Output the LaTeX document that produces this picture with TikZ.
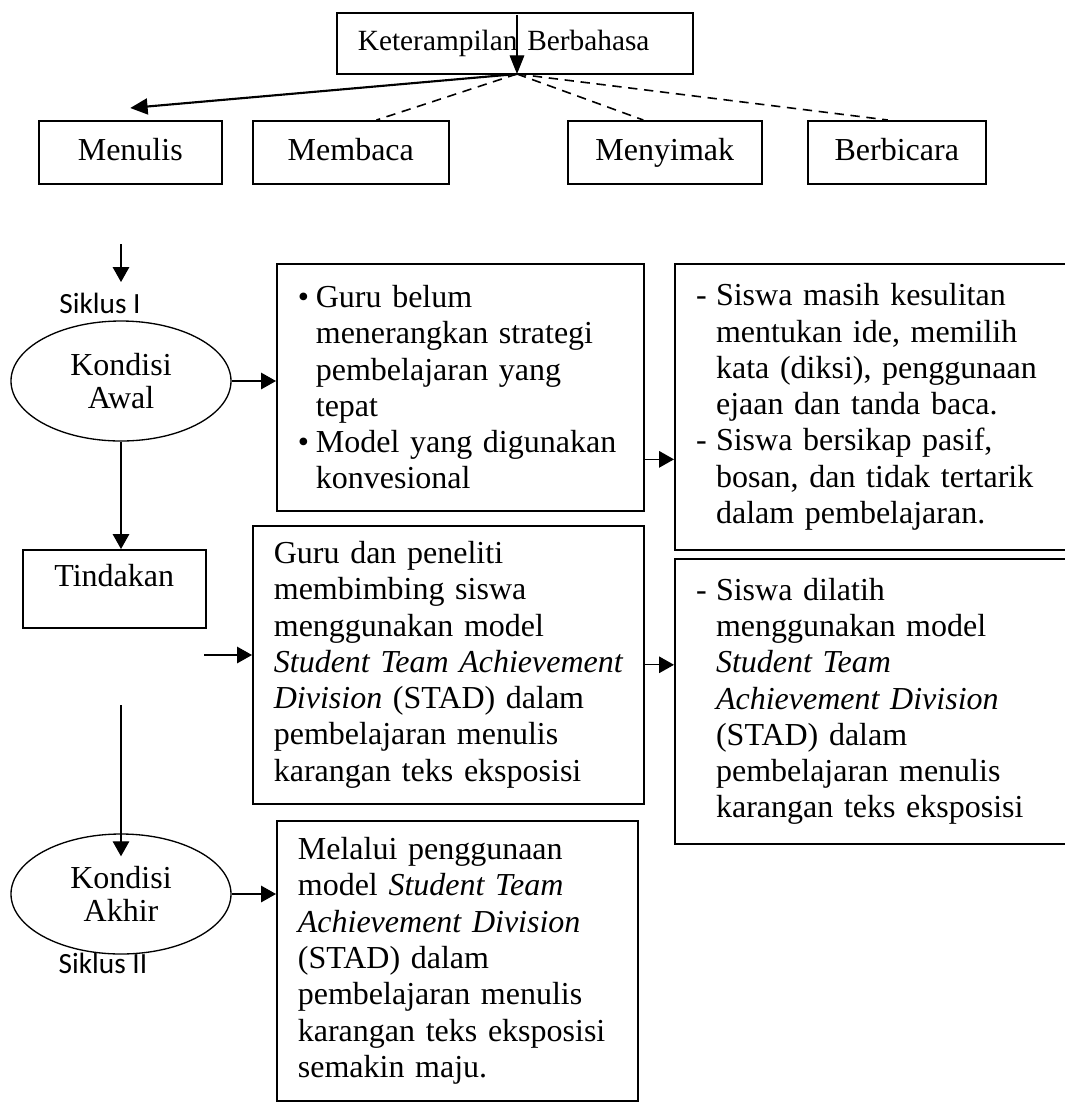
\documentclass[tikz,border=0pt]{standalone}
\usepackage{fontspec}
\setmainfont{Liberation Serif}
\newfontfamily\siklusfont{Carlito}
\usepackage{tikz}
\usetikzlibrary{arrows.meta,positioning,calc,shapes.geometric}
\newcommand{\dashitem}{\makebox[7.5pt][l]{-}}
\newcommand{\bulitem}{\makebox[6.75pt][l]{\textbullet}}
\newcommand{\dashgap}{\hspace*{7.5pt}}
\newcommand{\bulgap}{\hspace*{6.75pt}}

\begin{document}
\begin{tikzpicture}[x=0.375pt,y=-0.375pt,
  box/.style={draw, line width=0.6pt, anchor=north west, inner xsep=7.9pt, inner ysep=3pt, align=left, font=\fontsize{12}{13.6}\selectfont},
  kbox/.style={draw, line width=0.6pt, anchor=north west, minimum height=23.6pt, text height=8.2pt, text depth=2pt, align=center, font=\fontsize{12}{14}\selectfont},
  oval/.style={draw, ellipse, line width=0.5pt, minimum width=82.5pt, minimum height=45pt, inner sep=0pt, align=center, font=\fontsize{12}{12.4}\selectfont},
  siklus/.style={font=\siklusfont\fontsize{11}{13}\selectfont},
  arr/.style={line width=0.45pt, -{Triangle[length=5.6pt,width=6.2pt]}},
  dashline/.style={line width=0.6pt, dash pattern=on 3.5pt off 2.5pt}]
\clip (0,0) rectangle (1065,1102);

\node[box, text width=117.7pt, minimum height=22.9pt, font=\fontsize{11}{13}\selectfont] (kb) at (336,12) {Keterampilan Berbahasa};
\node[kbox, minimum width=68.6pt] (menulis) at (38,120) {Menulis};
\node[kbox, minimum width=73.5pt] (membaca) at (252,120) {Membaca};
\node[kbox, minimum width=72.75pt] (menyimak) at (567,120) {Menyimak};
\node[kbox, minimum width=66.75pt] (berbicara) at (807,120) {Berbicara};

\coordinate (kin) at (517,15);
\coordinate (hub) at (517,74);
\draw[line width=0.45pt, -{Triangle[length=7pt,width=5.5pt]}] (kin) -- (hub);
\draw[line width=0.8pt, -{Triangle[length=6.5pt,width=6pt]}] (hub) -- ([yshift=4.5pt]menulis.north);
\draw[dashline] (hub) -- ($(membaca.north west)!0.63!(membaca.north east)$);
\draw[dashline] (hub) -- ($(menyimak.north west)!0.39!(menyimak.north east)$);
\draw[dashline] (hub) -- ($(berbicara.north west)!0.45!(berbicara.north east)$);

\coordinate (s1a) at (121,244);
\coordinate (s1b) at (121,282);
\draw[arr] (s1a) -- (s1b);
\node[siklus] (lab1) at (100,303) {Siklus I};
\node[oval] (awal) at (121,381) {Kondisi\\Awal};
\node[kbox, minimum width=68.6pt, minimum height=29.25pt, text depth=10pt] (tindakan) at (22,549) {Tindakan};
\node[oval] (akhir) at (121,894) {Kondisi\\Akhir};
\node[siklus] (lab2) at (103,963) {Siklus II};

\node[box, text width=121.8pt, minimum height=92.6pt] (kendala) at (276,263) {\bulitem Guru belum\\ \bulgap menerangkan strategi\\ \bulgap pembelajaran yang\\ \bulgap tepat\\ \bulitem Model yang digunakan\\ \bulgap konvesional};
\node[box, text width=141.7pt, minimum height=107.25pt, line width=0.75pt] (masalah) at (674,263) {\dashitem Siswa masih kesulitan\\ \dashgap mentukan ide, memilih\\ \dashgap kata (diksi), penggunaan\\ \dashgap ejaan dan tanda baca.\\ \dashitem Siswa bersikap pasif,\\ \dashgap bosan, dan tidak tertarik\\ \dashgap dalam pembelajaran.};
\node[box, text width=130.8pt, minimum height=104.25pt] (bimbing) at (252,525) {Guru dan peneliti\\ membimbing siswa\\ menggunakan model\\ \mbox{\textit{Student Team Achievement}}\\ \textit{Division} (STAD) dalam\\ pembelajaran menulis\\ karangan teks eksposisi};
\node[box, text width=141.7pt, minimum height=106.9pt, line width=0.75pt] (dilatih) at (674,558) {\dashitem Siswa dilatih\\ \dashgap menggunakan model\\ \dashgap \textit{Student Team}\\ \dashgap \textit{Achievement Division}\\ \dashgap (STAD) dalam\\ \dashgap pembelajaran menulis\\ \dashgap karangan teks eksposisi};
\node[box, text width=119.6pt, minimum height=105pt] (hasil) at (276,820) {Melalui penggunaan\\ model \textit{Student Team}\\ \textit{Achievement Division}\\ (STAD) dalam\\ pembelajaran menulis\\ karangan teks eksposisi\\ semakin maju.};

\coordinate (k1) at ($(kendala.north east)!0.79!(kendala.south east)$);
\coordinate (t2) at (204,655);
\coordinate (t3) at (121,705);
\draw[arr] (awal.east) -- (awal.east -| kendala.west);
\draw[arr] (k1) -- (k1 -| masalah.west);
\draw[arr] (awal.south) -- (awal.south |- tindakan.north);
\draw[arr] (t2) -- (t2 -| bimbing.west);
\draw[arr] (bimbing.east) -- (bimbing.east -| dilatih.west);
\draw[arr] (t3) -- ([yshift=-8.6pt]akhir.north);
\draw[arr] (akhir.east) -- (akhir.east -| hasil.west);
\end{tikzpicture}
\end{document}
